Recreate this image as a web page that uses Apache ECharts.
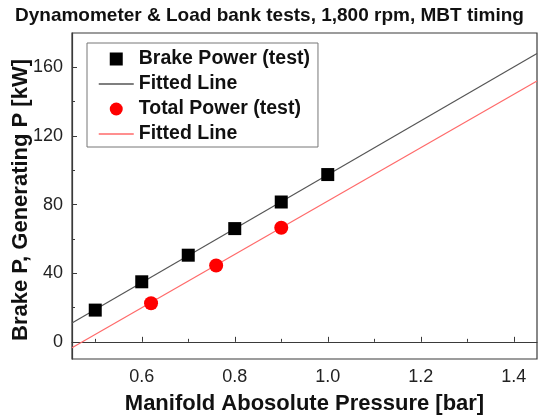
<!DOCTYPE html>
<html>
<head>
<meta charset="utf-8">
<script src="https://cdn.jsdelivr.net/npm/echarts@6/dist/echarts.min.js"></script>
<style>
  html, body { margin: 0; padding: 0; background: #fff; }
  #chart { width: 538px; height: 416px; }
</style>
</head>
<body>
<div id="chart"></div>
<script>
// Manifold absolute pressure [bar] and measured power [kW]
const pressureBrake = [0.5, 0.6, 0.7, 0.8, 0.9, 1.0];
const brakePower = [18.5, 35, 50.5, 66, 81.5, 97.5];
const pressureTotal = [0.62, 0.76, 0.9];
const totalPower = [22.5, 44.5, 66.5];

// Linear fits, evaluated at the ends of the pressure range
const fitPressure = [0.45, 1.45];
const brakeFit = [11, 168];
const totalFit = [-3.5, 152];

// Axis ticks
const xMajor = [0.6, 0.8, 1.0, 1.2, 1.4];
const xMinor = [0.5, 0.7, 0.9, 1.1, 1.3];
const yMajor = [0, 40, 80, 120, 160];
const yMinor = [20, 60, 100, 140];

const FONT = '"Liberation Sans", Arial, sans-serif';
const AXIS_COLOR = '#3a3a3a';
const BRAKE_LINE = '#555555';
const TOTAL_LINE = '#ff6a6a';

const pairs = (xs, ys) => xs.map((x, i) => [x, ys[i]]);
const legendNames = {
  'Brake Power (test)': 'Brake Power (test)',
  'Brake fit': 'Fitted Line',
  'Total Power (test)': 'Total Power (test)',
  'Total fit': 'Fitted Line'
};
const SQUARE = 'path://M0,0L10,0L10,10L0,10Z';

const chart = echarts.init(document.getElementById('chart'), null, { renderer: 'canvas' });

chart.setOption({
  animation: false,
  backgroundColor: '#ffffff',
  textStyle: { fontFamily: FONT },
  title: {
    text: 'Dynamometer & Load bank tests, 1,800 rpm, MBT timing',
    left: 15,
    top: 6,
    padding: 0,
    textStyle: { fontFamily: FONT, fontSize: 19, fontWeight: 'bold', color: '#111' }
  },
  grid: {
    left: 72, right: 1, top: 33, bottom: 57,
    containLabel: false,
    outerBoundsMode: 'none',
    show: true, borderColor: AXIS_COLOR, borderWidth: 1.2, backgroundColor: 'transparent'
  },
  legend: {
    orient: 'vertical',
    left: 87,
    top: 43,
    padding: [6, 8, 3, 11],
    itemGap: 5,
    itemWidth: 35,
    itemHeight: 13,
    borderColor: '#777',
    borderWidth: 1,
    backgroundColor: '#fff',
    data: [
      { name: 'Brake Power (test)', icon: SQUARE, itemStyle: { color: '#000', opacity: 1 } },
      { name: 'Brake fit', itemStyle: { opacity: 0 }, lineStyle: { color: BRAKE_LINE, width: 1.5 } },
      { name: 'Total Power (test)', icon: 'circle', itemStyle: { color: '#ff0000', opacity: 1 } },
      { name: 'Total fit', itemStyle: { opacity: 0 }, lineStyle: { color: TOTAL_LINE, width: 1.5 } }
    ],
    formatter: name => legendNames[name],
    textStyle: { fontFamily: FONT, fontSize: 19.5, fontWeight: 'bold', color: '#111', lineHeight: 20 }
  },
  xAxis: [
    {
      type: 'value', min: 0.45, max: 1.45,
      name: 'Manifold Abosolute Pressure [bar]',
      nameLocation: 'middle', nameGap: 34,
      nameTextStyle: { fontFamily: FONT, fontSize: 22, fontWeight: 'bold', color: '#111' },
      axisLine: { show: true, lineStyle: { color: AXIS_COLOR, width: 1.2 } },
      axisTick: { show: true, inside: true, length: 5, customValues: xMajor, lineStyle: { color: AXIS_COLOR } },
      axisLabel: {
        customValues: xMajor, margin: 9,
        formatter: v => Number(v).toFixed(1),
        fontFamily: FONT, fontSize: 18, color: '#222'
      },
      splitLine: { show: false }
    },
    {
      type: 'value', min: 0.45, max: 1.45, position: 'bottom',
      axisLine: { show: false },
      axisTick: { show: true, inside: true, length: 3, customValues: xMinor, lineStyle: { color: AXIS_COLOR } },
      axisLabel: { show: false },
      splitLine: { show: false }
    }
  ],
  yAxis: [
    {
      type: 'value', min: -10, max: 180,
      name: 'Brake P, Generating P [kW]',
      nameLocation: 'middle', nameGap: 40,
      nameMoveOverlap: false,
      nameTextStyle: { fontFamily: FONT, fontSize: 22, fontWeight: 'bold', color: '#111', padding: [0, 8, 0, 0] },
      axisLine: { show: true, lineStyle: { color: AXIS_COLOR, width: 1.2 } },
      axisTick: { show: true, inside: true, length: 5, customValues: yMajor, lineStyle: { color: AXIS_COLOR } },
      axisLabel: { customValues: yMajor, margin: 9, fontFamily: FONT, fontSize: 18, color: '#222' },
      splitLine: { show: false }
    },
    {
      type: 'value', min: -10, max: 180, position: 'left',
      axisLine: { show: false },
      axisTick: { show: true, inside: true, length: 3, customValues: yMinor, lineStyle: { color: AXIS_COLOR } },
      axisLabel: { show: false },
      splitLine: { show: false }
    }
  ],
  series: [
    {
      name: 'Brake Power (test)',
      type: 'scatter',
      symbol: 'rect',
      symbolSize: 13,
      itemStyle: { color: '#000', opacity: 1 },
      data: pairs(pressureBrake, brakePower),
      z: 5
    },
    {
      name: 'Brake fit',
      type: 'line',
      symbol: 'none',
      lineStyle: { color: BRAKE_LINE, width: 1.2 },
      itemStyle: { color: BRAKE_LINE },
      data: pairs(fitPressure, brakeFit),
      z: 2
    },
    {
      name: 'Total Power (test)',
      type: 'scatter',
      symbol: 'circle',
      symbolSize: 14,
      itemStyle: { color: '#ff0000', opacity: 1 },
      data: pairs(pressureTotal, totalPower),
      z: 5
    },
    {
      name: 'Total fit',
      type: 'line',
      symbol: 'none',
      lineStyle: { color: TOTAL_LINE, width: 1.2 },
      itemStyle: { color: TOTAL_LINE },
      data: pairs(fitPressure, totalFit),
      z: 2
    }
  ]
});
</script>
</body>
</html>
